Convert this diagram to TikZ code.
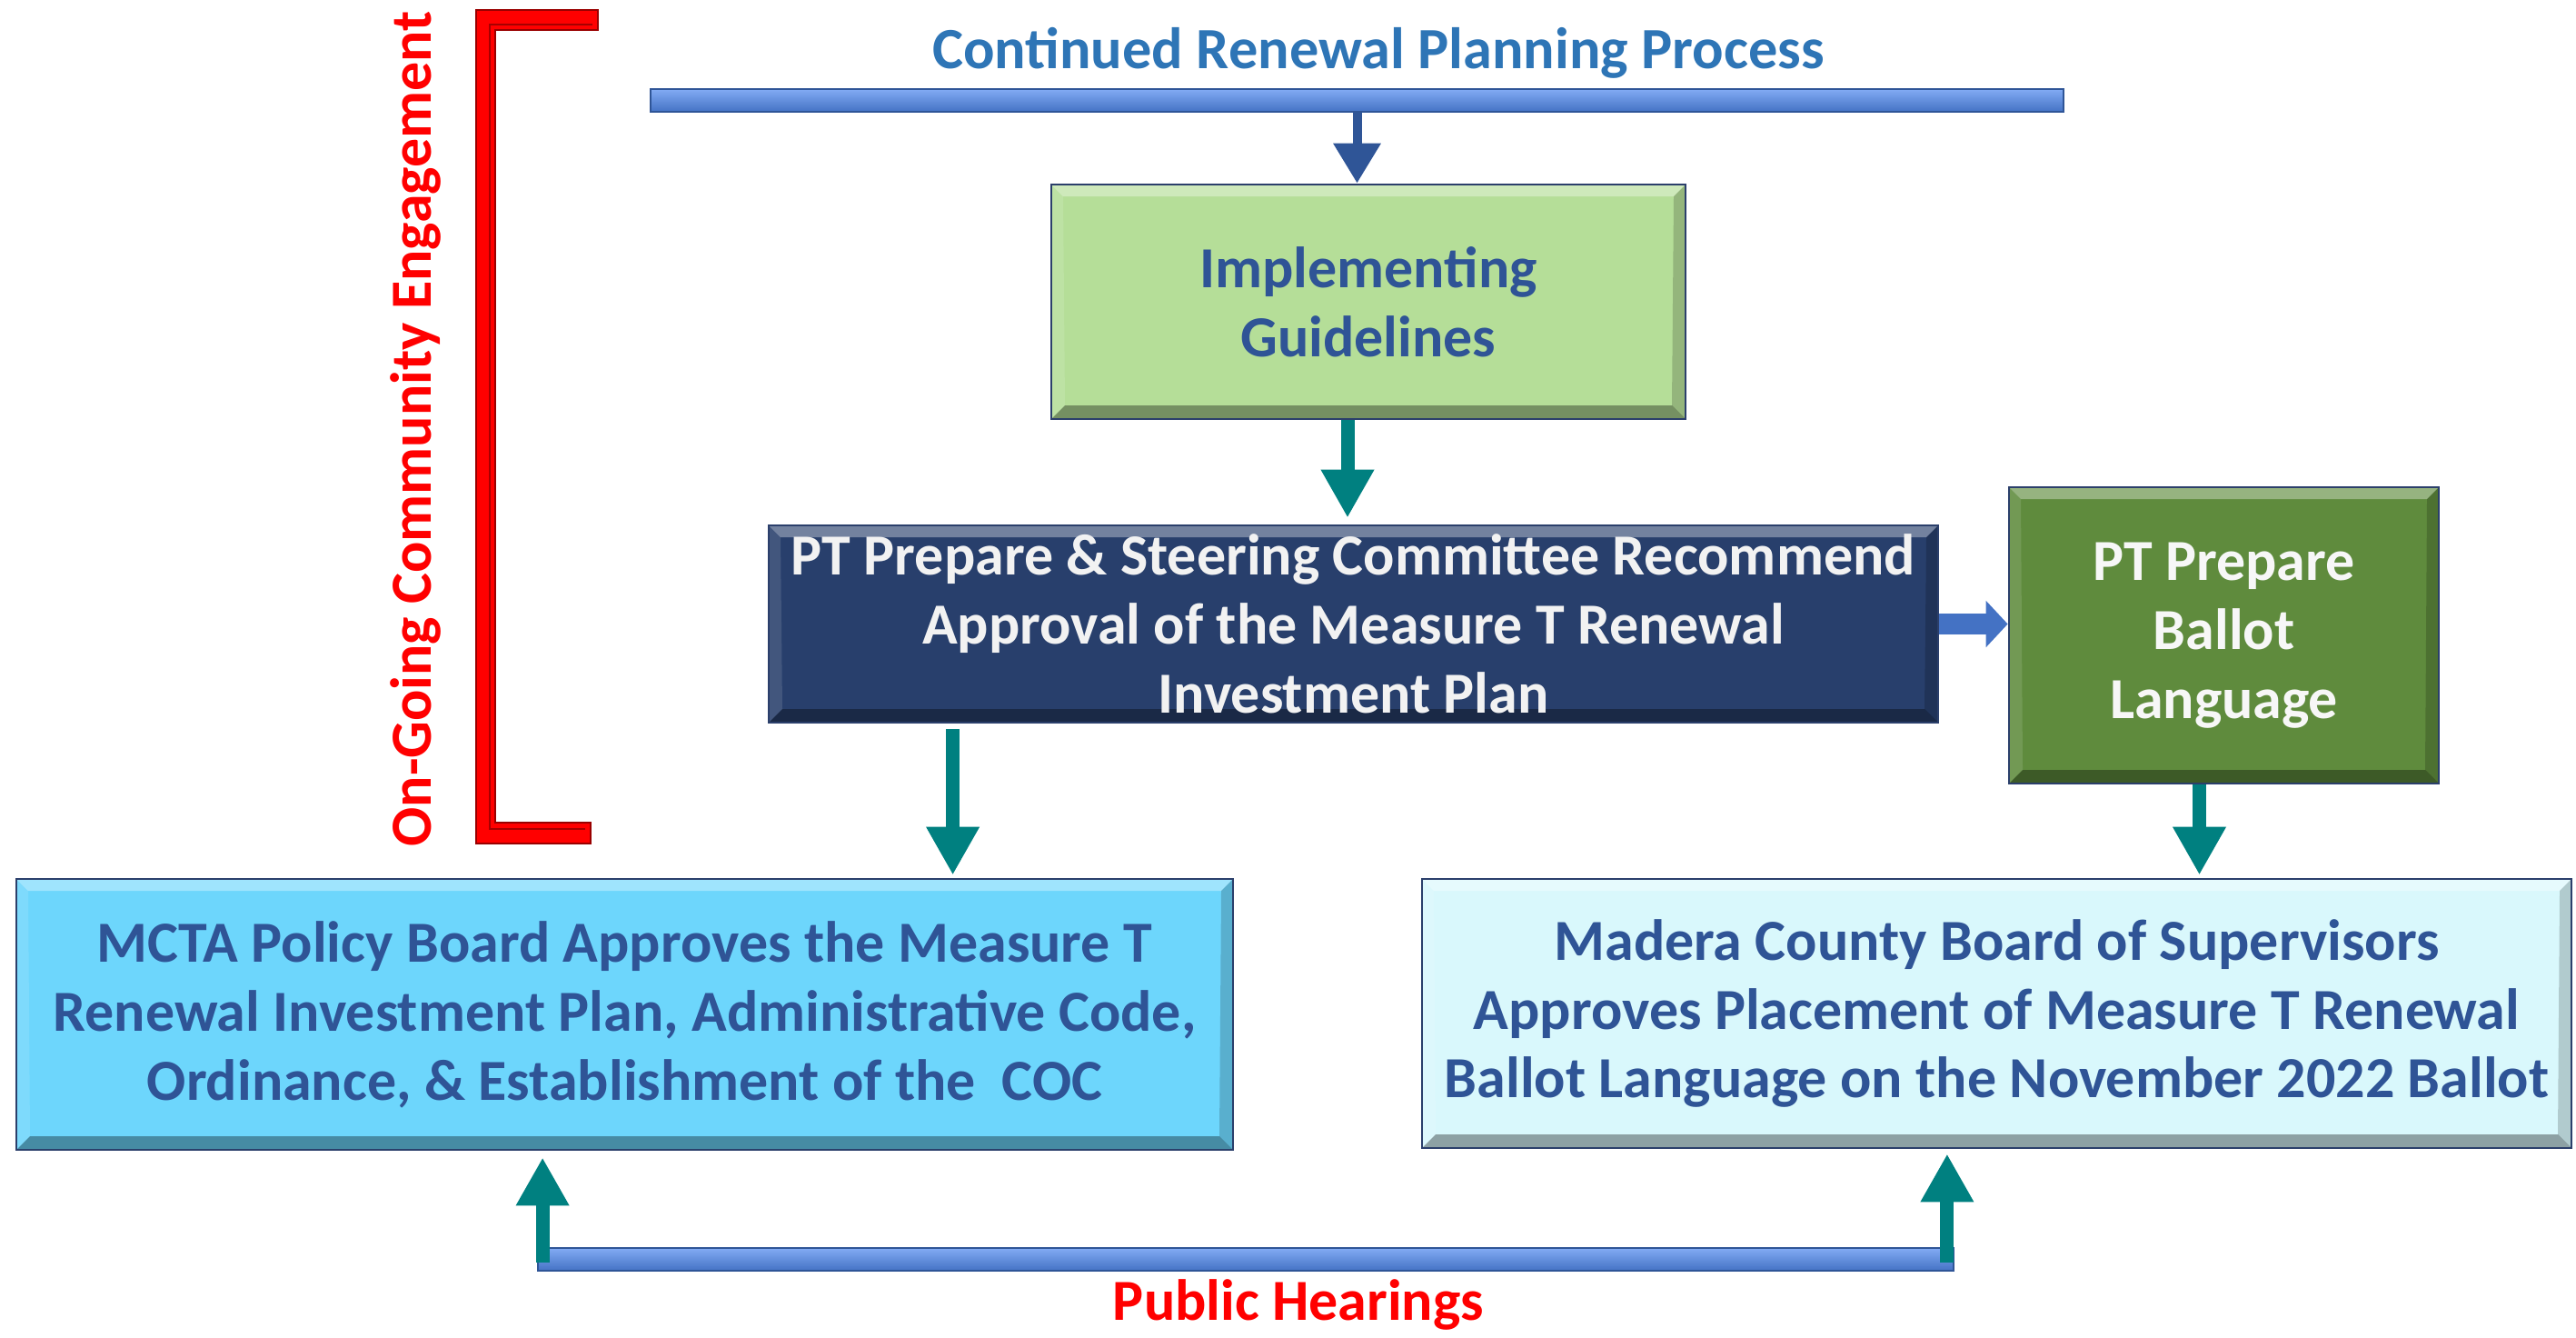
\documentclass[tikz,border=0pt]{standalone}
\usepackage{fontspec}
\setmainfont{Carlito}
\usetikzlibrary{arrows.meta}

\definecolor{titleblue}{HTML}{2E75B6}
\definecolor{pipeblue}{HTML}{4472C4}
\definecolor{pipelight}{HTML}{82ABF4}
\definecolor{darkblue}{HTML}{2F5597}
\definecolor{textblue}{HTML}{2F5496}
\definecolor{tealarr}{HTML}{008080}
\definecolor{guidegreen}{HTML}{B5DE98}
\definecolor{navyfill}{HTML}{283F6C}
\definecolor{ballotgreen}{HTML}{5F8B3D}
\definecolor{skyfill}{HTML}{6DD6FC}
\definecolor{icefill}{HTML}{D9F8FC}
\definecolor{edgeblue}{HTML}{2B3F6B}

\newcommand\boxfont{\fontsize{18.2}{21.6}\selectfont\bfseries}
\newcommand\titlefont{\fontsize{18.3}{21.6}\selectfont\bfseries}

\tikzset{
  bevelbox/.style={draw=edgeblue, line width=0.8pt, align=center, inner sep=0pt, font=\boxfont,
    path picture={
      \path (path picture bounding box.south west) coordinate (bsw)
            (path picture bounding box.north east) coordinate (bne)
            (path picture bounding box.north west) coordinate (bnw)
            (path picture bounding box.south east) coordinate (bse);
      % bevel: light top/left, dark bottom/right
      \fill[white, opacity=.35] (bnw) -- (bne) -- ([shift={(-.13,-.13)}]bne) -- ([shift={(.13,-.13)}]bnw) -- cycle;
      \fill[white, opacity=.12] (bsw) -- (bnw) -- ([shift={(.13,-.13)}]bnw) -- ([shift={(.15,.15)}]bsw) -- cycle;
      \fill[black, opacity=.18] (bse) -- (bne) -- ([shift={(-.13,-.13)}]bne) -- ([shift={(-.15,.15)}]bse) -- cycle;
      \fill[black, opacity=.35] (bsw) -- (bse) -- ([shift={(-.15,.15)}]bse) -- ([shift={(.15,.15)}]bsw) -- cycle;
    }},
  pipe/.style={draw=darkblue, line width=0.5pt, top color=pipelight, bottom color=pipeblue,
    inner sep=0pt, minimum height=0.25cm},
  tealarrow/.style={draw=tealarr, line width=0.15cm, -{Triangle[length=0.53cm,width=0.55cm]}},
  bluearrow/.style={draw=darkblue, line width=0.1cm, -{Triangle[length=0.44cm,width=0.5cm]}},
  pipearrow/.style={draw=pipeblue, line width=0.23cm, -{Triangle[length=0.24cm,width=0.5cm]}},
}

\begin{document}
\begin{tikzpicture}
\useasboundingbox (0,0) rectangle (28.35,-14.71);

% top process bar
\node[text=titleblue, font=\titlefont, anchor=base] (title) at (15.17,-0.75) {Continued Renewal Planning Process};
\node[pipe, minimum width=15.55cm] (plan) at (14.935,-1.105) {};

% community engagement bracket
\fill[red, draw=red!60!black, line width=0.5pt] (6.58,-0.11) -- (5.24,-0.11) -- (5.24,-9.28) -- (6.50,-9.28)
  -- (6.50,-9.05) -- (5.45,-9.05) -- (5.45,-0.33) -- (6.58,-0.33) -- cycle;
\draw[red!65!black, line width=0.8pt] (6.52,-0.27) -- (5.39,-0.27) -- (5.39,-9.12) -- (6.44,-9.12);
\node[text=red, font=\boxfont, anchor=base, rotate=90] (ongoing) at (4.74,-4.72) {On-Going Community Engagement};

% boxes
\node[bevelbox, fill=guidegreen, text=textblue, minimum width=6.98cm, minimum height=2.58cm] (guide) at (15.06,-3.32) {Implementing\\Guidelines};
\node[bevelbox, fill=navyfill, text=white!95!black, minimum width=12.87cm, minimum height=2.17cm] (ptsc) at (14.895,-6.865)
  {PT Prepare \& Steering Committee Recommend\\Approval of the Measure T Renewal\\Investment Plan};
\node[bevelbox, fill=ballotgreen, text=white!97!black, minimum width=4.73cm, minimum height=3.26cm] (ballot) at (24.475,-6.99)
  {PT Prepare\\Ballot\\Language};
\node[bevelbox, fill=skyfill, text=textblue, minimum width=13.39cm, minimum height=2.98cm] (mcta) at (6.875,-11.16)
  {MCTA Policy Board Approves the Measure T\\Renewal Investment Plan, Administrative Code,\\Ordinance, \& Establishment of the\ \ COC};
\node[bevelbox, fill=icefill, text=textblue, minimum width=12.65cm, minimum height=2.96cm] (madera) at (21.975,-11.15)
  {Madera County Board of Supervisors\\Approves Placement of Measure T Renewal\\Ballot Language on the November 2022 Ballot};

% public hearings bar
\node[pipe, minimum width=15.58cm] (hear) at (13.71,-13.855) {};
\node[text=red, font=\boxfont, anchor=base] (hearings) at (14.29,-14.52) {Public Hearings};

% connectors
\coordinate (gfoot) at ([xshift=-2.3mm]guide.south);
\coordinate (pfoot) at ([xshift=2.04cm]ptsc.south west);
\coordinate (bfoot) at ([xshift=-2.7mm]ballot.south);
\coordinate (lfoot) at ([xshift=0.06cm,yshift=-0.03cm]hear.west);
\coordinate (rfoot) at ([xshift=-0.08cm,yshift=-0.03cm]hear.east);

\draw[bluearrow] (plan.south) -- (plan.south |- guide.north);
\draw[tealarrow, shorten >=0.07cm] (gfoot) -- (gfoot |- ptsc.north);
\draw[pipearrow] (ptsc.east) -- (ptsc.east -| ballot.west);
\draw[tealarrow, shorten <=0.06cm, shorten >=0.03cm] (pfoot) -- (pfoot |- mcta.north);
\draw[tealarrow, shorten >=0.03cm] (bfoot) -- (bfoot |- madera.north);
\draw[tealarrow, shorten >=0.07cm] (lfoot) -- (lfoot |- mcta.south);
\draw[tealarrow, shorten >=0.05cm] (rfoot) -- (rfoot |- madera.south);
\end{tikzpicture}
\end{document}
